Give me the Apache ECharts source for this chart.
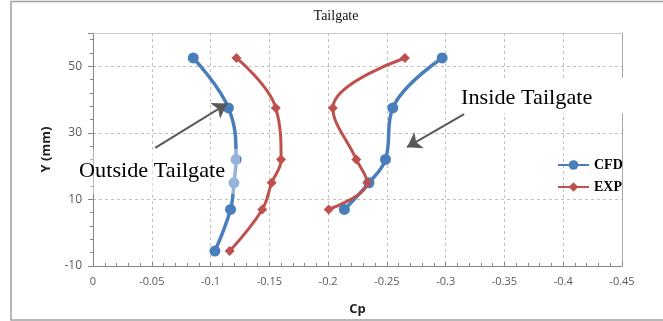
<!DOCTYPE html>
<html>
<head>
<meta charset="utf-8">
<script src="https://cdn.jsdelivr.net/npm/echarts@6/dist/echarts.min.js"></script>
<style>html,body{margin:0;padding:0;background:#fff}#c{width:663px;height:321px}</style>
</head>
<body>
<div id="c"></div>
<script>
// ---- data (Cp on x, Y in mm on y) ----
const yOutside = [52.5, 37.5, 22, 15, 7, -5.5];
const cfdOutside = [-0.0853, -0.1152, -0.1217, -0.1199, -0.117, -0.1037];
const expOutside = [-0.122, -0.1555, -0.160, -0.152, -0.144, -0.1163];
const yInside = [52.5, 37.5, 22, 15, 7];
const cfdInside = [-0.297, -0.255, -0.2488, -0.2347, -0.2138];
const expInside = [-0.2653, -0.204, -0.224, -0.2333, -0.2005];
const yTickLabels = [-10, 10, 30, 50];
const xTicks = [0, -0.05, -0.1, -0.15, -0.2, -0.25, -0.3, -0.35, -0.4, -0.45];
// annotation arrows [x, y] start -> end
const arrowOutside = [[-0.0529, 25.5], [-0.1141, 38.8]];
const arrowInside = [[-0.3157, 35.6], [-0.2671, 25.7]];

const Y0 = -10; // axis bottom (ticks counted from here)
const sh = v => v - Y0;
const pts = (xs, ys) => xs.map((x, i) => [x, sh(ys[i])]);
const arr = a => [{coord: [a[0][0], sh(a[0][1])]}, {coord: [a[1][0], sh(a[1][1])]}];

const CFD = '#4a7ebb', EXP = '#c0504d';
const lblFont = {fontFamily: 'Open Sans', fontSize: 11, color: '#595959'};

const chart = echarts.init(document.getElementById('c'), null, {renderer: 'canvas'});
const baseSeries = (name, data, color, sym, size, w) => ({
  name, type: 'line', data, smooth: 0.4, symbol: sym, symbolSize: size,
  itemStyle: {color}, lineStyle: {color, width: w}, z: 3
});
chart.setOption({
  animation: false,
  grid: {left: 93, right: 41, top: 33, bottom: 53},
  legend: {
    data: ['CFD', 'EXP'], orient: 'vertical', left: 552, top: 153,
    itemWidth: 31, itemHeight: 12, itemGap: 8,
    textStyle: {fontFamily: 'Liberation Serif', fontWeight: 'bold', fontSize: 14, color: '#000'}
  },
  xAxis: [{
    type: 'value', inverse: true, min: -0.45, max: 0, interval: 0.05,
    name: 'Cp', nameLocation: 'middle', nameGap: 37,
    nameTextStyle: {fontFamily: 'Open Sans', fontWeight: 'bold', fontSize: 13, color: '#222'},
    axisLine: {show: true, lineStyle: {color: '#868686', width: 1}},
    axisTick: {show: true, inside: true, length: 4, lineStyle: {color: '#868686'}},
    minorTick: {show: true, splitNumber: 5, length: 3, lineStyle: {color: '#868686'}},
    axisLabel: Object.assign({margin: 10, formatter: v => {
      const r = Math.round(v * 100) / 100; return xTicks.includes(r) ? String(r) : '';
    }}, lblFont),
    splitLine: {show: true, lineStyle: {color: '#bfbfbf', type: [3, 3]}}
  }, {
    type: 'value', position: 'top', inverse: true, min: -0.45, max: 0,
    axisLine: {show: true, onZero: false, lineStyle: {color: '#c8c8c8'}},
    axisTick: {show: false}, axisLabel: {show: false}, splitLine: {show: false}
  }],
  yAxis: [{
    type: 'value', min: 0, max: 70, interval: 20,
    name: 'Y (mm)', nameLocation: 'middle', nameGap: 40, nameRotate: 90,
    nameTextStyle: {fontFamily: 'Open Sans', fontWeight: 'bold', fontSize: 13, color: '#222'},
    axisLine: {show: true, lineStyle: {color: '#868686'}},
    axisTick: {show: true, length: 5, lineStyle: {color: '#868686'}},
    axisLabel: Object.assign({margin: 11, formatter: v => {
      const r = v + Y0; return yTickLabels.includes(r) ? String(r) : '';
    }}, lblFont, {fontSize: 12}),
    splitLine: {show: true, lineStyle: {color: '#bfbfbf', type: [3, 3]}}
  }, {
    type: 'value', position: 'left', min: 0, max: 70, interval: 4,
    axisLine: {show: false}, axisTick: {show: true, length: 3, lineStyle: {color: '#868686'}},
    axisLabel: {show: false}, splitLine: {show: false}
  }, {
    type: 'value', position: 'right', min: 0, max: 70,
    axisLine: {show: true, lineStyle: {color: '#a6a6a6'}},
    axisTick: {show: false}, axisLabel: {show: false}, splitLine: {show: false}
  }],
  series: [
    Object.assign(baseSeries('CFD', pts(cfdOutside, yOutside), CFD, 'circle', 11, 3.5), {
      markLine: {
        silent: true, symbol: ['none', 'arrow'], symbolSize: 14,
        lineStyle: {color: '#595959', width: 2, type: 'solid'},
        label: {show: false}, emphasis: {disabled: true},
        data: [arr(arrowOutside), arr(arrowInside)]
      }
    }),
    baseSeries('CFD', pts(cfdInside, yInside), CFD, 'circle', 11, 3.5),
    baseSeries('EXP', pts(expOutside, yOutside), EXP, 'diamond', 10, 3),
    baseSeries('EXP', pts(expInside, yInside), EXP, 'diamond', 10, 3)
  ],
  graphic: [
    {type: 'rect', z: 100, silent: true, shape: {x: 11, y: 1.5, width: 660, height: 318.5},
      style: {fill: 'none', stroke: '#a0a0a0', lineWidth: 1.5}},
    {type: 'text', z: 100, silent: true, style: {x: 336, y: 16, text: 'Tailgate', align: 'center', verticalAlign: 'middle',
      font: '14px "Liberation Serif"', fill: '#111'}},
    {type: 'rect', z: 100, silent: true, shape: {x: 78, y: 149, width: 162, height: 45},
      style: {fill: 'rgba(255,255,255,0.42)'}},
    {type: 'text', z: 101, silent: true, x: 79, y: 171, scaleX: 1.06,
      style: {x: 0, y: 0, text: 'Outside Tailgate', align: 'left', verticalAlign: 'middle',
      font: '21px "Liberation Serif"', fill: '#000'}},
    {type: 'rect', z: 100, silent: true, shape: {x: 455, y: 78, width: 169, height: 35},
      style: {fill: '#fff'}},
    {type: 'text', z: 101, silent: true, x: 461, y: 98, scaleX: 1.06,
      style: {x: 0, y: 0, text: 'Inside Tailgate', align: 'left', verticalAlign: 'middle',
      font: '21px "Liberation Serif"', fill: '#000'}}
  ]
});
</script>
</body>
</html>
